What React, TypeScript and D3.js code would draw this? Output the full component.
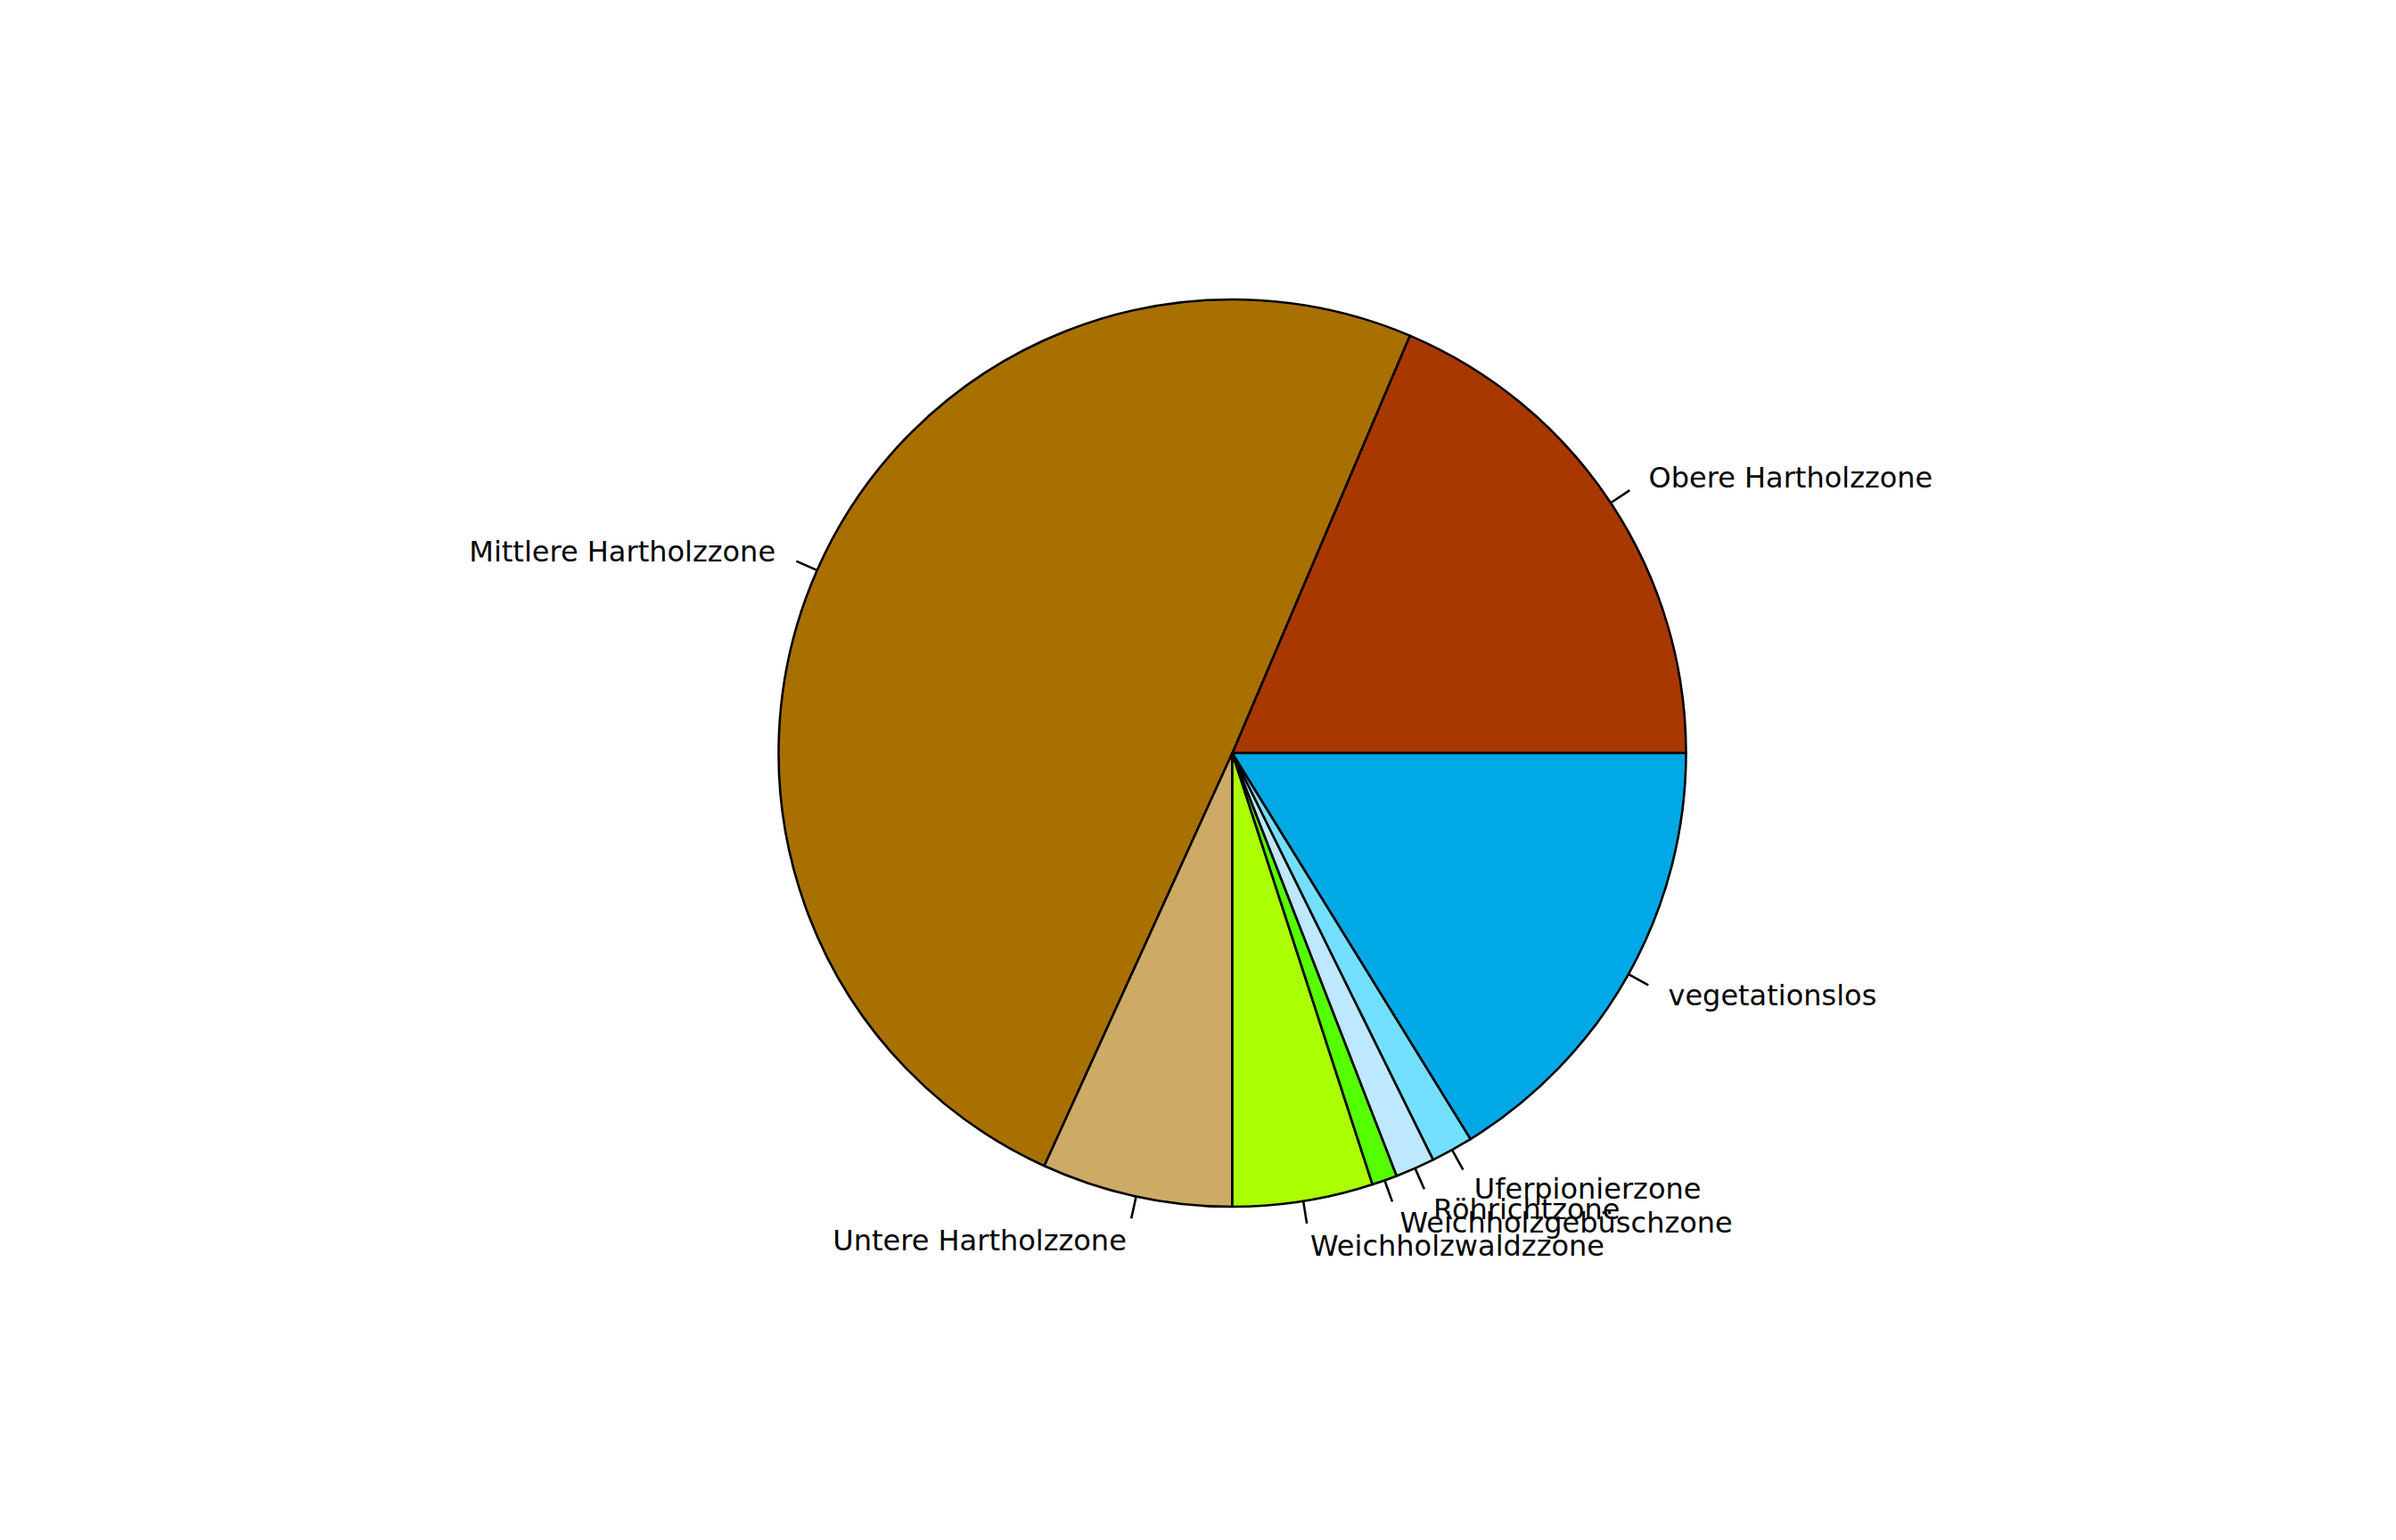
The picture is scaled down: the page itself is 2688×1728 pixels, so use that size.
import React from "react";
import * as d3 from "d3";

const categories = [
  "Obere Hartholzzone",
  "Mittlere Hartholzzone",
  "Untere Hartholzzone",
  "Weichholzwaldzzone",
  "Weichholzgebüschzone",
  "Röhrichtzone",
  "Uferpionierzone",
  "vegetationslos",
];
const values = [18.6, 49.6, 6.8, 5.0, 0.9, 1.4, 1.5, 16.2];
const colors = [
  "#A83800",
  "#A87000",
  "#CDAA66",
  "#AAFF00",
  "#55FF00",
  "#BEE8FF",
  "#73DFFF",
  "#00A8E6",
];

const W = 2688;
const H = 1728;
const CX = 1382.5;
const CY = 845;
const R = 509;

export default function App() {
  const pie = d3
    .pie<number>()
    .sort(null)
    .startAngle(Math.PI / 2)
    .endAngle(Math.PI / 2 - 2 * Math.PI);
  const arcs = pie(values);
  const arc = d3.arc<d3.PieArcDatum<number>>().innerRadius(0).outerRadius(R);

  return (
    <svg
      width={W}
      height={H}
      style={{ position: "absolute", left: 0, top: 0, background: "#fff" }}
    >
      <rect x={0} y={0} width={W} height={H} fill="#fff" />
      <g transform={`translate(${CX},${CY})`}>
        {arcs.map((a, i) => (
          <path
            key={i}
            d={arc(a) || ""}
            fill={colors[i]}
            stroke="#000"
            strokeWidth={2.6}
            strokeLinejoin="round"
          />
        ))}
        {arcs.map((a, i) => {
          const m = (a.startAngle + a.endAngle) / 2;
          const sx = Math.sin(m);
          const sy = -Math.cos(m);
          return (
            <g key={"l" + i}>
              <line
                x1={R * sx}
                y1={R * sy}
                x2={1.05 * R * sx}
                y2={1.05 * R * sy}
                stroke="#000"
                strokeWidth={2.6}
              />
              <text
                x={1.1 * R * sx}
                y={1.1 * R * sy}
                dy="0.33em"
                textAnchor={sx > 0 ? "start" : "end"}
                fontFamily="DejaVu Sans"
                fontSize={32}
                fill="#000"
              >
                {categories[i]}
              </text>
            </g>
          );
        })}
      </g>
    </svg>
  );
}
